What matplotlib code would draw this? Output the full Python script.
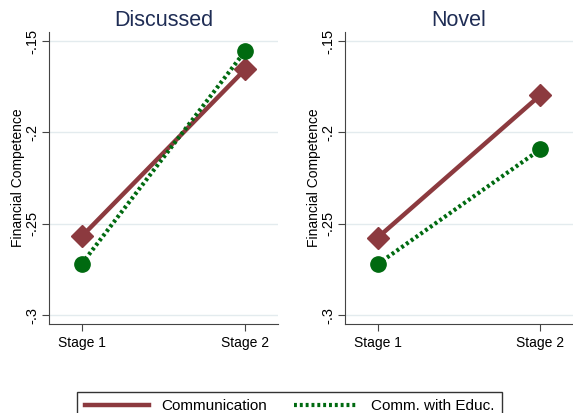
import matplotlib
matplotlib.use("Agg")
import matplotlib.pyplot as plt
from matplotlib.lines import Line2D

stages = ["Stage 1", "Stage 2"]
panels = ["Discussed", "Novel"]
comm = {"Discussed": [-0.257, -0.1655], "Novel": [-0.2577, -0.1796]}
educ = {"Discussed": [-0.272, -0.1555], "Novel": [-0.2722, -0.2093]}
yticks = [-0.15, -0.2, -0.25, -0.3]
ytick_labels = ["-.15", "-.2", "-.25", "-.3"]

RED = "#8c3a3f"
GREEN = "#006a10"
TITLE = "#1f2d55"
GRID = "#e3ebee"

plt.rcParams["font.family"] = ["Liberation Sans", "DejaVu Sans"]

fig = plt.figure(figsize=(5.73, 4.13), dpi=100)
positions = [[0.0855, 0.2155, 0.3995, 0.707], [0.602, 0.2155, 0.398, 0.707]]

for pos, name in zip(positions, panels):
    ax = fig.add_axes(pos)
    x = [1, 2]
    ax.plot(x, comm[name], color=RED, lw=3.2, marker="D", markersize=11,
            label="Communication", zorder=3)
    ax.plot(x, educ[name], color=GREEN, lw=3.0, linestyle=(0, (0.7, 0.7)),
            marker="o", markersize=11, label="Comm. with Educ.", zorder=4)
    ax.set_xlim(0.8, 2.2)
    ax.set_ylim(-0.3049, -0.1451)
    ax.set_xticks(x)
    ax.set_xticklabels(stages, fontsize=10)
    ax.set_yticks(yticks)
    ax.set_yticklabels(ytick_labels, rotation=90, va="center", fontsize=10.5)
    ax.yaxis.grid(True, color=GRID, lw=1)
    ax.set_axisbelow(True)
    for s in ["top", "right"]:
        ax.spines[s].set_visible(False)
    for s in ["left", "bottom"]:
        ax.spines[s].set_color("#444444")
    ax.tick_params(length=5, color="#444444")
    ax.tick_params(axis="y", pad=2)
    ax.set_ylabel("Financial Competence", fontsize=10, labelpad=0)
    ax.set_title(name, fontsize=15.5, color=TITLE, pad=4)

labels = ["Communication", "Comm. with Educ."]
h = [Line2D([], [], color=RED, lw=3.2),
     Line2D([], [], color=GREEN, lw=3.0, linestyle=(0, (0.7, 0.7)))]
leg = fig.legend(h, labels, loc="upper center", bbox_to_anchor=(0.505, 0.07),
                 ncol=2, fontsize=11, frameon=True, fancybox=False,
                 edgecolor="black", handlelength=4.2, columnspacing=1.8,
                 borderpad=0.5)
leg.get_frame().set_linewidth(1.0)

fig.savefig("out.png", dpi=100)
